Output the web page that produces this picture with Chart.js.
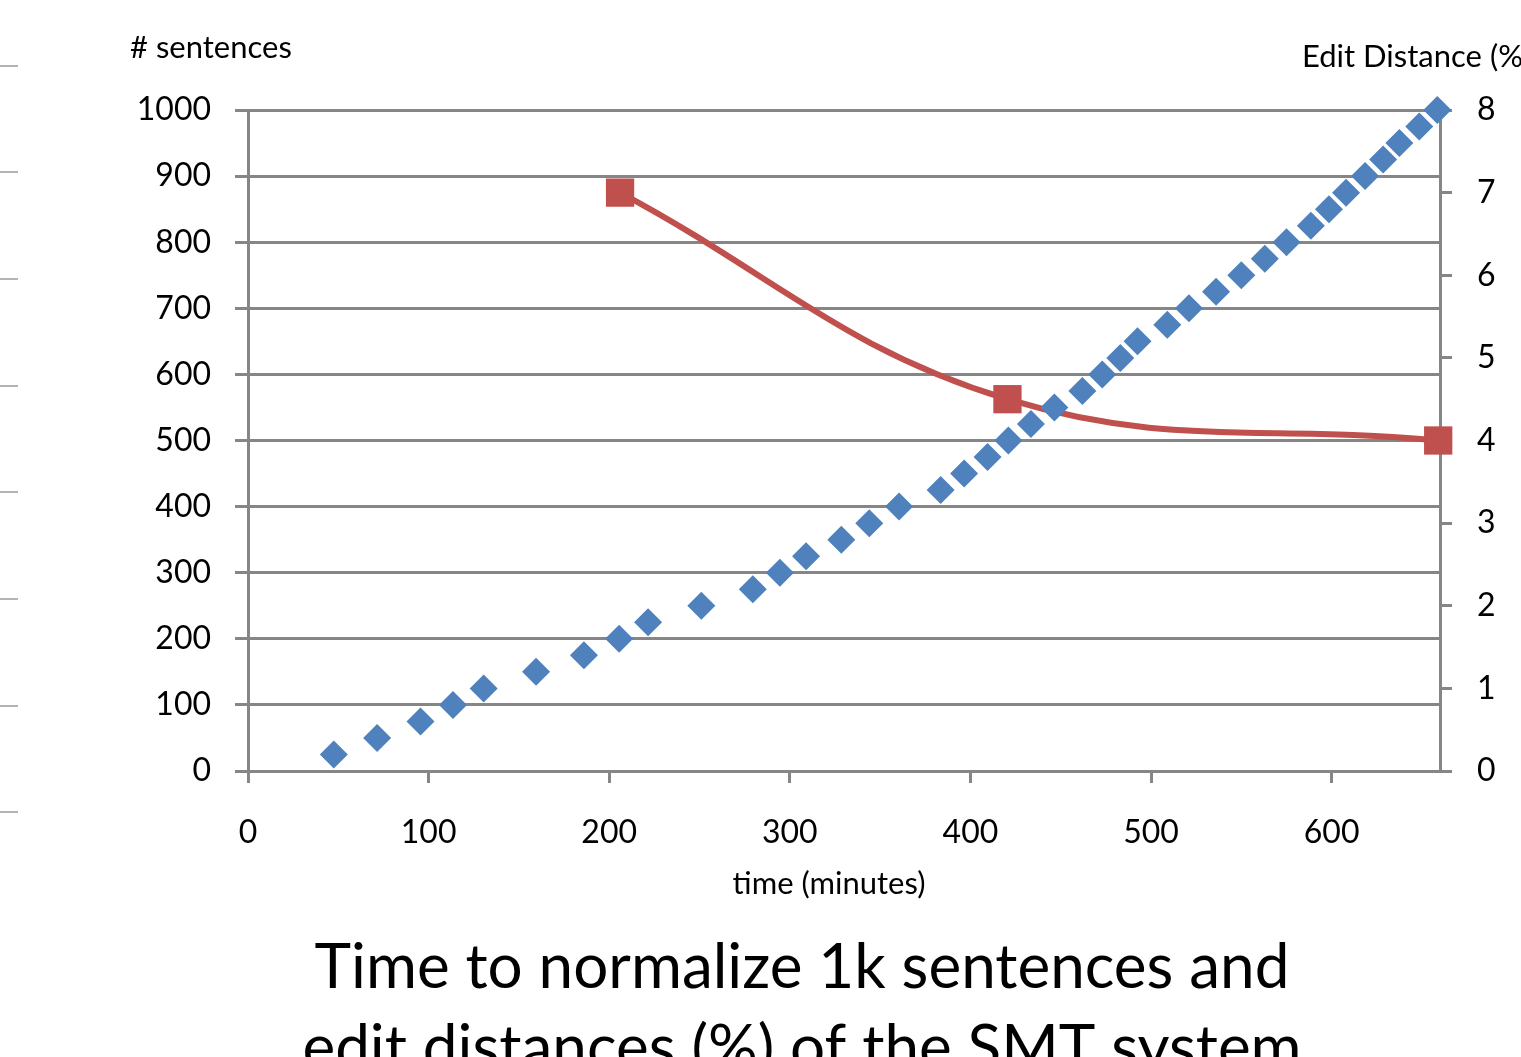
<!DOCTYPE html>
<html>
<head>
<meta charset="utf-8">
<script src="https://cdn.jsdelivr.net/npm/chart.js@4"></script>
<style>
  html, body { margin: 0; padding: 0; background: #fff; overflow: hidden; }
  #wrap { position: relative; width: 1521px; height: 1098px; }
</style>
</head>
<body>
<div id="wrap"><canvas id="chart"></canvas></div>
<script>
// sentences normalized (left axis) against time in minutes
const sentTime = [47.5, 71.5, 95.5, 113.5, 130.5, 159.5, 186, 205.5, 221.5, 251,
                  279.5, 294.5, 309, 328.5, 344, 360.5, 383.5, 396.5, 409.5, 421,
                  433.5, 446.5, 462, 473, 483, 492.5, 509, 521, 536, 550,
                  563, 575, 588.5, 598.5, 608, 618.5, 628.5, 637.5, 648.5, 658.5];
const sentCount = [25, 50, 75, 100, 125, 150, 175, 200, 225, 250,
                   275, 300, 325, 350, 375, 400, 425, 450, 475, 500,
                   525, 550, 575, 600, 625, 650, 675, 700, 725, 750,
                   775, 800, 825, 850, 875, 900, 925, 950, 975, 1000];
// edit distance (%) on right axis
const editTime = [206, 420.5, 659];
const editDist = [7.0, 4.5, 4.0];

const titleLines = ['Time to normalize 1k sentences and', 'edit distances (%) of the SMT system'];

const gridGray = '#868686';
const fontFam = 'Lato, "Open Sans", sans-serif';

const extraText = {
  id: 'extraText',
  afterDraw(chart) {
    const ctx = chart.ctx;
    ctx.save();
    // stray marks on the left edge of the slide
    ctx.strokeStyle = '#b4b4b4';
    ctx.lineWidth = 2;
    [66, 172, 279, 386, 492, 599, 706, 812].forEach(function(y) {
      ctx.beginPath();
      ctx.moveTo(0, y);
      ctx.lineTo(18, y);
      ctx.stroke();
    });
    ctx.fillStyle = '#000';
    ctx.font = '31px ' + fontFam;
    ctx.textBaseline = 'middle';
    ctx.textAlign = 'left';
    ctx.fillText('# sentences', 130, 48);
    ctx.fillText('Edit Distance (%)', 1302, 57);
    ctx.textAlign = 'center';
    ctx.fillText('time (minutes)', 829, 884);
    // slide caption under the chart
    ctx.font = '62px ' + fontFam;
    ctx.textBaseline = 'alphabetic';
    ctx.fillText(titleLines[0], 802, 988);
    ctx.fillText(titleLines[1], 802, 1069);
    ctx.restore();
  }
};

const sentPoints = sentTime.map((t, i) => ({x: t, y: sentCount[i]}));
const editPoints = editTime.map((t, i) => ({x: t, y: editDist[i]}));

new Chart(document.getElementById('chart'), {
  type: 'scatter',
  data: {
    datasets: [
      {
        label: '# sentences',
        data: sentPoints,
        yAxisID: 'y',
        pointStyle: 'rectRot',
        pointRadius: 14,
        backgroundColor: '#4F81BD',
        borderColor: '#4F81BD',
        borderWidth: 0,
        showLine: false,
        clip: false
      },
      {
        label: 'Edit Distance (%)',
        data: editPoints,
        yAxisID: 'y2',
        showLine: true,
        tension: 0.4,
        borderColor: '#C0504D',
        borderWidth: 6,
        pointStyle: 'rect',
        pointRadius: 20,
        backgroundColor: '#C0504D',
        pointBorderWidth: 0,
        clip: false
      }
    ]
  },
  options: {
    responsive: true,
    maintainAspectRatio: false,
    animation: false,
    layout: { padding: { top: 110, left: 0, right: 0, bottom: 198 } },
    plugins: {
      legend: { display: false },
      tooltip: { enabled: false },
      title: { display: false }
    },
    scales: {
      x: {
        type: 'linear',
        min: 0,
        max: 660,
        ticks: { stepSize: 100, includeBounds: false, color: '#000', padding: 30, font: { family: fontFam, size: 32 } },
        grid: { drawOnChartArea: false, color: gridGray, lineWidth: 3, tickLength: 12 },
        border: { color: gridGray, width: 3 },
        afterFit(scale) { scale.height = 129; }
      },
      y: {
        position: 'left',
        min: 0,
        max: 1000,
        ticks: { stepSize: 100, color: '#000', padding: 24, font: { family: fontFam, size: 32 },
                 callback: v => String(v) },
        grid: { color: gridGray, lineWidth: 3, tickLength: 13 },
        border: { color: gridGray, width: 3 },
        afterFit(scale) { scale.width = 248; }
      },
      y2: {
        position: 'right',
        min: 0,
        max: 8,
        ticks: { stepSize: 1, color: '#000', padding: 25, font: { family: fontFam, size: 32 } },
        grid: { drawOnChartArea: false, color: gridGray, lineWidth: 3, tickLength: 12 },
        border: { color: gridGray, width: 3 },
        afterFit(scale) { scale.width = 81; }
      }
    }
  },
  plugins: [extraText]
});
</script>
</body>
</html>
